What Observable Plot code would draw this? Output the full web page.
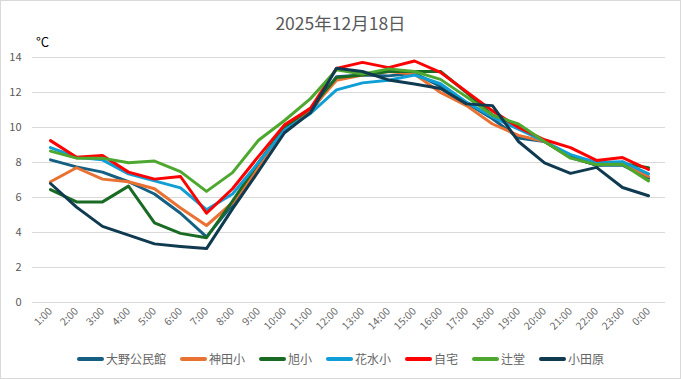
<!DOCTYPE html>
<html>
<head>
<meta charset="utf-8">
<script src="https://cdn.jsdelivr.net/npm/d3@7"></script>
<script src="https://cdn.jsdelivr.net/npm/@observablehq/plot@0.6"></script>
<style>
  html, body { margin: 0; padding: 0; background: #fff; }
  #wrap { position: relative; width: 681px; height: 379px; background: #fff; overflow: hidden;
          font-family: "Noto Sans CJK JP", "Noto Sans", sans-serif; }
  #frame { position: absolute; left: 0; top: 0; width: 681px; height: 379px; box-sizing: border-box;
           border: 1px solid #d9d9d9; pointer-events: none; }
  #title { position: absolute; left: 0; width: 681px; top: 10px; text-align: center; font-size: 17.5px; color: #595959; }
  #unit { position: absolute; left: 36px; top: 32px; font-size: 13px; color: #000; }
  #chart { position: absolute; left: 0; top: 0; }
  #legend { position: absolute; left: 0; width: 681px; top: 350px; display: flex; justify-content: center;
            align-items: center; gap: 14px; font-size: 12px; color: #666; }
  .item { display: flex; align-items: center; }
  .sw { display: inline-block; width: 27px; height: 4px; border-radius: 2px; margin-right: 2px; }
</style>
</head>
<body>
<div id="wrap">
  <div id="title"></div>
  <div id="unit"></div>
  <div id="chart"></div>
  <div id="legend"></div>
  <div id="frame"></div>
</div>
<script>
const title = "2025年12月18日";
const unitLabel = "°C";
const hours = ["1:00","2:00","3:00","4:00","5:00","6:00","7:00","8:00","9:00","10:00","11:00","12:00",
               "13:00","14:00","15:00","16:00","17:00","18:00","19:00","20:00","21:00","22:00","23:00","0:00"];
const yTicks = [0, 2, 4, 6, 8, 10, 12, 14];
const names = ["大野公民館", "神田小", "旭小", "花水小", "自宅", "辻堂", "小田原"];
const colors = ["#156082", "#E97132", "#196B24", "#0F9ED5", "#FF0000", "#4EA72E", "#0F3A50"];

const oono    = [8.15, 7.75, 7.45, 6.9, 6.2, 5.1, 3.75, 5.6, 7.8, 9.8, 10.9, 12.9, 13.0, 12.95, 13.1, 12.35, 11.4, 10.5, 9.4, 9.2, 8.3, 7.85, 7.85, 7.1];
const kanda   = [6.9, 7.7, 7.05, 6.9, 6.5, 5.4, 4.4, 5.7, 7.7, 9.9, 11.0, 12.7, 13.0, 13.2, 13.05, 12.0, 11.25, 10.2, 9.55, 9.2, 8.3, 7.9, 7.95, 7.2];
const asahi   = [6.45, 5.75, 5.75, 6.65, 4.55, 3.95, 3.7, 5.8, 8.0, 10.0, 11.1, 12.85, 13.0, 13.2, 13.2, 13.2, 12.0, 10.7, 10.1, 9.2, 8.3, 7.85, 7.95, 7.7];
const hanamizu= [8.85, 8.3, 8.15, 7.35, 6.95, 6.55, 5.3, 6.2, 8.0, 9.85, 10.8, 12.15, 12.55, 12.7, 13.0, 12.5, 11.45, 10.6, 9.9, 9.2, 8.45, 8.0, 8.05, 7.35];
const jitaku  = [9.25, 8.3, 8.4, 7.45, 7.05, 7.2, 5.1, 6.5, 8.35, 10.15, 11.1, 13.38, 13.72, 13.42, 13.8, 13.15, 12.05, 10.95, 10.0, 9.3, 8.85, 8.12, 8.28, 7.6];
const tsujido = [8.65, 8.25, 8.25, 7.98, 8.08, 7.48, 6.35, 7.42, 9.27, 10.4, 11.65, 13.3, 13.05, 13.35, 13.2, 12.75, 11.75, 10.7, 10.2, 9.2, 8.25, 7.88, 7.9, 6.95];
const odawara = [6.8, 5.45, 4.35, 3.85, 3.35, 3.2, 3.08, 5.35, 7.5, 9.7, 10.85, 13.38, 13.2, 12.72, 12.48, 12.23, 11.35, 11.25, 9.2, 7.98, 7.38, 7.72, 6.57, 6.1];

const seriesValues = [oono, kanda, asahi, hanamizu, jitaku, tsujido, odawara];
const data = [];
names.forEach((n, i) => seriesValues[i].forEach((v, j) => data.push({name: n, hour: hours[j], value: v})));

document.getElementById("title").textContent = title;
document.getElementById("unit").textContent = unitLabel;

const font = "'Noto Sans CJK JP', 'Noto Sans', sans-serif";
const chart = Plot.plot({
  width: 681,
  height: 345,
  marginTop: 57,
  marginBottom: 43,
  marginLeft: 32,
  marginRight: 16,
  style: { fontFamily: font, color: "#595959", background: "transparent", overflow: "visible" },
  x: { type: "point", domain: hours, padding: 0.5, label: null },
  y: { domain: [0, 14], label: null },
  color: { domain: names, range: colors },
  marks: [
    Plot.ruleY(yTicks, { stroke: "#d9d9d9", strokeWidth: 1 }),
    Plot.axisY({ ticks: yTicks, tickSize: 0, tickPadding: 11, fontSize: 11, label: null, fill: "#595959" }),
    Plot.axisX({ tickRotate: -45, tickSize: 0, tickPadding: 7, fontSize: 10.5, label: null, fill: "#6a6a6a" }),
    Plot.lineY(data, { x: "hour", y: "value", z: "name", stroke: "name", strokeWidth: 3,
                       strokeLinejoin: "round", strokeLinecap: "round" })
  ]
});
document.getElementById("chart").appendChild(chart);

const legend = document.getElementById("legend");
names.forEach((n, i) => {
  const it = document.createElement("div");
  it.className = "item";
  const sw = document.createElement("span");
  sw.className = "sw";
  sw.style.background = colors[i];
  const lb = document.createElement("span");
  lb.textContent = n;
  it.appendChild(sw);
  it.appendChild(lb);
  legend.appendChild(it);
});
</script>
</body>
</html>
